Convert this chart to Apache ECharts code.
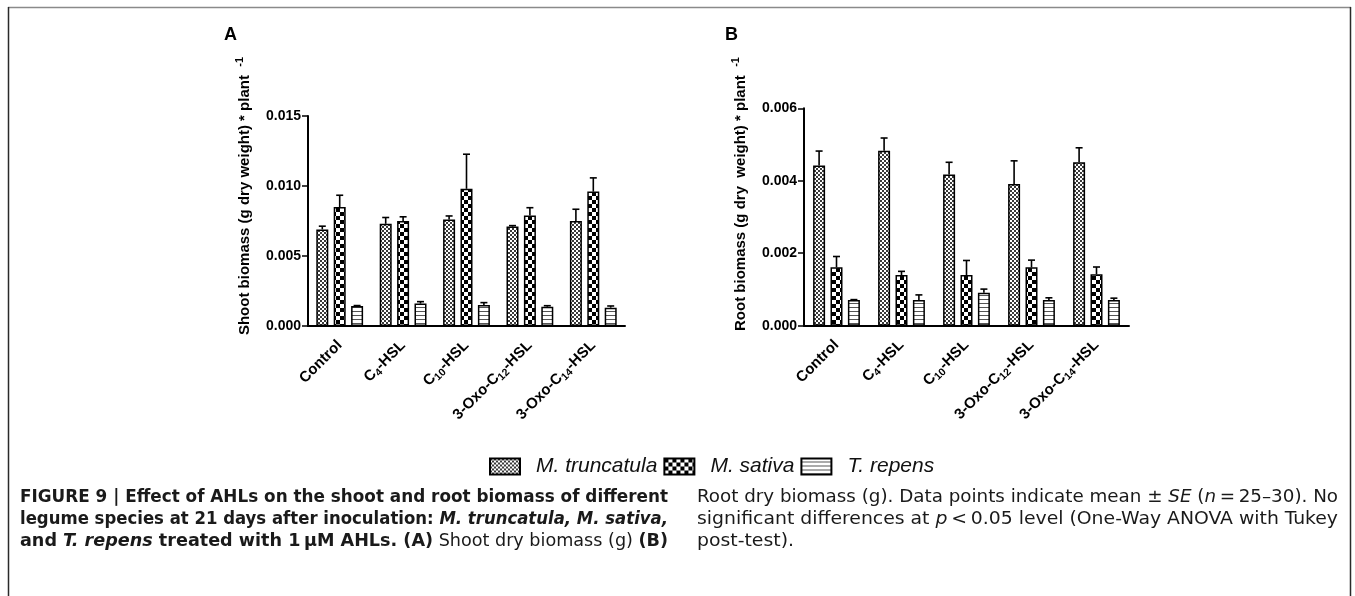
<!DOCTYPE html>
<html><head><meta charset="utf-8">
<script src="https://cdn.jsdelivr.net/npm/echarts@6/dist/echarts.min.js"></script>
<style>html,body{margin:0;padding:0;background:#fff}#c{width:1355px;height:596px}</style>
</head><body><div id="c"></div>
<script>
// ---------- data ----------
const categories = ['Control', 'C4-HSL', 'C10-HSL', '3-Oxo-C12-HSL', '3-Oxo-C14-HSL'];
const speciesNames = ['M. truncatula', 'M. sativa', 'T. repens'];

// Panel A: shoot biomass (g dry weight per plant), mean and SE
const shootTruncatula = [0.0069, 0.0073, 0.0076, 0.0071, 0.0075];
const shootTruncatulaSE = [0.00023, 0.00045, 0.00026, 0.00007, 0.00084];
const shootSativa = [0.0085, 0.0075, 0.0098, 0.0079, 0.0096];
const shootSativaSE = [0.00084, 0.0003, 0.00247, 0.00055, 0.00098];
const shootRepens = [0.00143, 0.0016, 0.0015, 0.00138, 0.00131];
const shootRepensSE = [0.00003, 0.00014, 0.00017, 0.00007, 0.00012];

// Panel B: root biomass
const rootTruncatula = [0.00442, 0.00483, 0.00417, 0.00391, 0.00451];
const rootTruncatulaSE = [0.0004, 0.00035, 0.00034, 0.00064, 0.0004];
const rootSativa = [0.00161, 0.0014, 0.0014, 0.00161, 0.00142];
const rootSativaSE = [0.0003, 0.0001, 0.0004, 0.0002, 0.0002];
const rootRepens = [0.00071, 0.00071, 0.00091, 0.00071, 0.00071];
const rootRepensSE = [0.00001, 0.00014, 0.0001, 0.00006, 0.00005];

const shootTicks = [0, 0.005, 0.010, 0.015];
const rootTicks = [0, 0.002, 0.004, 0.006];

const captionLeft = [
  '{b|FIGURE 9 | Effect of AHLs on the shoot and root biomass of different}',
  '{b|legume species at 21 days after inoculation: }{bi|M. truncatula, M. sativa,}',
  '{b|and }{bi|T. repens}{b| treated with 1\u2009\u03bcM AHLs. (A)}{n| Shoot dry biomass (g) }{b|(B)}'
];
const captionRight = [
  '{n|Root dry biomass (g). Data points indicate mean \u00b1 }{i|SE}{n| (}{i|n}{n|\u2009=\u200925\u201330). No}',
  '{n|significant differences at }{i|p}{n|\u2009<\u20090.05 level (One-Way ANOVA with Tukey}',
  '{n|post-test).}'
];

// ---------- patterns ----------
function pattern(kind) {
  const c = document.createElement('canvas');
  const ctx = c.getContext('2d');
  if (kind === 'fine') {
    c.width = 4; c.height = 4;
    ctx.fillStyle = '#fff'; ctx.fillRect(0, 0, 4, 4);
    ctx.fillStyle = '#3a3a3a'; ctx.fillRect(0, 0, 2, 2); ctx.fillRect(2, 2, 2, 2);
  } else if (kind === 'check') {
    c.width = 8; c.height = 8;
    ctx.fillStyle = '#fff'; ctx.fillRect(0, 0, 8, 8);
    ctx.fillStyle = '#000'; ctx.fillRect(0, 0, 4, 4); ctx.fillRect(4, 4, 4, 4);
  } else {
    c.width = 4; c.height = 4;
    ctx.fillStyle = '#fff'; ctx.fillRect(0, 0, 4, 4);
    ctx.fillStyle = '#555'; ctx.fillRect(0, 3, 4, 1);
  }
  return { image: c, repeat: 'repeat' };
}
const fills = [pattern('fine'), pattern('check'), pattern('stripe')];

const FONT = "'Liberation Sans', Arial, Helvetica, sans-serif";
const NARROW = "'Liberation Sans Narrow', 'DejaVu Sans Condensed', 'Liberation Sans', sans-serif";
const BAR_W = 12, BAR_GAP = 0.45;
const offsets = [-(BAR_W * (1 + BAR_GAP)), 0, BAR_W * (1 + BAR_GAP)];

function catLabel(v) {
  return v.replace(/C(\d+)/g, 'C{s|$1}');
}

function barSeries(name, idx, data, axisIdx) {
  return {
    type: 'bar', name: name, xAxisIndex: axisIdx, yAxisIndex: axisIdx,
    data: data, barWidth: BAR_W, barGap: (BAR_GAP * 100) + '%',
    itemStyle: { color: fills[idx], borderColor: '#000', borderWidth: 1.5 },
    emphasis: { disabled: true }, animation: false
  };
}
function errSeries(idx, means, ses, axisIdx) {
  return {
    type: 'custom', xAxisIndex: axisIdx, yAxisIndex: axisIdx, silent: true, z: 5,
    data: means.map((m, i) => [i, m, ses[i]]),
    renderItem: function (params, api) {
      const ci = api.value(0), v = api.value(1), e = api.value(2);
      const p0 = api.coord([ci, v]);
      const p1 = api.coord([ci, v + e]);
      const x = p0[0] + offsets[idx];
      const st = { stroke: '#000', lineWidth: 1.6 };
      return {
        type: 'group', children: [
          { type: 'line', shape: { x1: x, y1: p0[1], x2: x, y2: p1[1] }, style: st },
          { type: 'line', shape: { x1: x - 3.5, y1: p1[1], x2: x + 3.5, y2: p1[1] }, style: st }
        ]
      };
    },
    animation: false
  };
}

function xAxis(gi) {
  return {
    type: 'category', gridIndex: gi, data: categories,
    axisLine: { lineStyle: { color: '#000', width: 2 } },
    axisTick: { alignWithLabel: true, length: 6, lineStyle: { color: '#000', width: 1.5 } },
    axisLabel: {
      rotate: 45, margin: 17, color: '#000', fontWeight: 'bold', fontSize: 15, fontFamily: FONT,
      lineHeight: 19, interval: 0, formatter: catLabel,
      rich: { s: { fontSize: 10.5, fontWeight: 'bold', fontFamily: FONT, color: '#000', lineHeight: 11, verticalAlign: 'bottom' } }
    }
  };
}
function yAxis(gi, ticks, name, pad) {
  return {
    type: 'value', gridIndex: gi, min: ticks[0], max: ticks[ticks.length - 1],
    interval: ticks[1] - ticks[0],
    name: name, nameLocation: 'middle', nameGap: 52,
    nameTextStyle: {
      fontSize: 15, fontWeight: 'bold', fontFamily: FONT, color: '#000', lineHeight: 22,
      padding: [0, 0, 0, pad],
      rich: { sup: { fontSize: 11, fontWeight: 'bold', fontFamily: FONT, color: '#000', lineHeight: 12, verticalAlign: 'top' } }
    },
    axisLine: { show: true, lineStyle: { color: '#000', width: 2 } },
    axisTick: { show: true, length: 6, lineStyle: { color: '#000', width: 1.5 } },
    splitLine: { show: false },
    axisLabel: { margin: 7, color: '#000', fontWeight: 'bold', fontSize: 14, fontFamily: FONT, formatter: v => v.toFixed(3) }
  };
}

// ---------- caption (justified by horizontal scaling per line) ----------
const CAP_SIZE = 18;
const capStyles = {
  b: { fontFamily: NARROW, fontWeight: 'bold', fontStyle: 'normal', fontSize: CAP_SIZE, fill: '#1a1a1a' },
  bi: { fontFamily: NARROW, fontWeight: 'bold', fontStyle: 'italic', fontSize: CAP_SIZE, fill: '#1a1a1a' },
  n: { fontFamily: NARROW, fontWeight: 'normal', fontStyle: 'normal', fontSize: CAP_SIZE, fill: '#1a1a1a' },
  i: { fontFamily: NARROW, fontWeight: 'normal', fontStyle: 'italic', fontSize: CAP_SIZE, fill: '#1a1a1a' }
};
const mctx = document.createElement('canvas').getContext('2d');
function measureRich(t) {
  let w = 0; const re = /\{(\w+)\|([^}]*)\}/g; let m;
  while ((m = re.exec(t))) {
    const s = capStyles[m[1]];
    mctx.font = s.fontStyle + ' ' + s.fontWeight + ' ' + s.fontSize + 'px ' + s.fontFamily;
    w += mctx.measureText(m[2]).width;
  }
  return w;
}
const graphics = [
  { type: 'line', shape: { x1: 8, y1: 7.5, x2: 1351, y2: 7.5 }, style: { stroke: '#8a8a8a', lineWidth: 1.5 } },
  { type: 'line', shape: { x1: 8.5, y1: 7, x2: 8.5, y2: 600 }, style: { stroke: '#2a2a2a', lineWidth: 1.5 } },
  { type: 'line', shape: { x1: 1350.5, y1: 7, x2: 1350.5, y2: 600 }, style: { stroke: '#2a2a2a', lineWidth: 1.5 } }
];
function addColumn(lines, x0, x1, justifyAll) {
  let lastScale = 1;
  lines.forEach((t, i) => {
    const w = measureRich(t);
    const justify = justifyAll || i < lines.length - 1;
    const sc = justify ? (x1 - x0) / w : lastScale;
    lastScale = sc;
    graphics.push({
      type: 'text', x: x0, y: 488 + i * 22, scaleX: sc, originX: 0, originY: 0,
      style: { text: t, rich: capStyles, x: 0, y: 0, fontSize: CAP_SIZE, verticalAlign: 'top', align: 'left' }
    });
  });
}
addColumn(captionLeft, 20, 668, true);
addColumn(captionRight, 697, 1338, false);

const option = {
  backgroundColor: '#fff',
  animation: false,
  title: [
    { text: 'A', left: 219, top: 21, textStyle: { fontSize: 18, fontWeight: 'bold', fontFamily: FONT, color: '#000' } },
    { text: 'B', left: 720, top: 21, textStyle: { fontSize: 18, fontWeight: 'bold', fontFamily: FONT, color: '#000' } }
  ],
  legend: {
    data: speciesNames, left: 484, top: 451, itemWidth: 30, itemHeight: 16, itemGap: 6,
    icon: 'rect', selectedMode: false,
    textStyle: { fontSize: 21, fontStyle: 'italic', fontFamily: FONT, color: '#111', padding: [0, 0, 0, 11] }
  },
  grid: [
    { left: 308, top: 116, width: 317, height: 210 },
    { left: 804, top: 108.3, width: 325, height: 217.4 }
  ],
  xAxis: [xAxis(0), xAxis(1)],
  yAxis: [
    yAxis(0, shootTicks, 'Shoot biomass (g dry weight) * plant  {sup|-1}', 50),
    yAxis(1, rootTicks, 'Root biomass (g dry  weight) * plant  {sup|-1}', 46)
  ],
  series: [
    barSeries(speciesNames[0], 0, shootTruncatula, 0),
    barSeries(speciesNames[1], 1, shootSativa, 0),
    barSeries(speciesNames[2], 2, shootRepens, 0),
    errSeries(0, shootTruncatula, shootTruncatulaSE, 0),
    errSeries(1, shootSativa, shootSativaSE, 0),
    errSeries(2, shootRepens, shootRepensSE, 0),
    barSeries(speciesNames[0], 0, rootTruncatula, 1),
    barSeries(speciesNames[1], 1, rootSativa, 1),
    barSeries(speciesNames[2], 2, rootRepens, 1),
    errSeries(0, rootTruncatula, rootTruncatulaSE, 1),
    errSeries(1, rootSativa, rootSativaSE, 1),
    errSeries(2, rootRepens, rootRepensSE, 1)
  ],
  graphic: graphics
};
const chart = echarts.init(document.getElementById('c'), null, { renderer: 'canvas' });
chart.setOption(option);
</script></body></html>
